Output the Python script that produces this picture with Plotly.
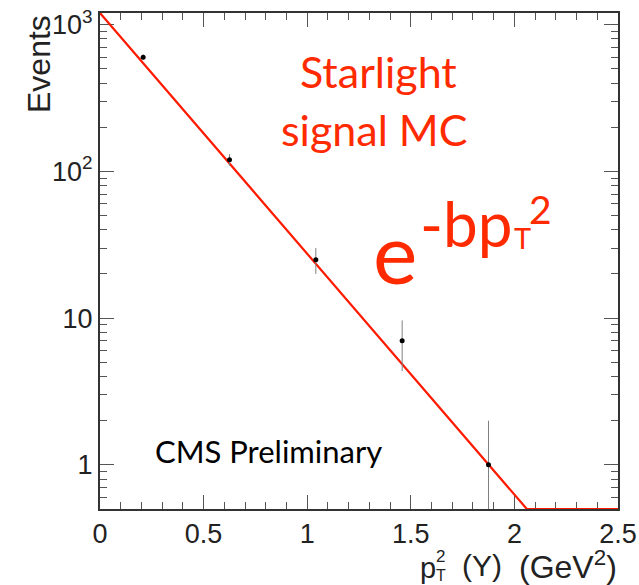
import plotly.graph_objects as go
import numpy as np

# ---- data ----
bin_centers = [0.2083, 0.625, 1.0417, 1.4583, 1.875]
events = [600, 120, 25, 7, 1]
errors = [24.5, 11.0, 5.0, 2.65, 1.0]
fit_x = [0.0, 2.06, 2.5]
fit_y = [1200, 0.5, 0.5]
y_tickvals = [1, 10, 100, 1000]
y_ticktext = ["1", "10", "10<sup>2</sup>", "10<sup>3</sup>"]
x_tickvals = [0, 0.5, 1, 1.5, 2, 2.5]
x_ticktext = ["0", "0.5", "1", "1.5", "2", "2.5"]
y_min, y_max = 0.5, 1200

RED = "#ff2a00"
L, R, T, B = 100, 618, 13, 509
W, H = 639, 585

def px(x):
    return (x - L) / (R - L)

def py(y):
    return (B - y) / (B - T)

fig = go.Figure()
fig.add_trace(go.Scatter(x=fit_x, y=fit_y, mode="lines",
                         line=dict(color="#ff1a00", width=2.2),
                         showlegend=False, hoverinfo="skip"))
fig.add_trace(go.Scatter(x=bin_centers, y=events, mode="markers",
                         marker=dict(color="black", size=5),
                         error_y=dict(type="data", array=errors, color="#808080",
                                      thickness=1, width=0),
                         showlegend=False))

minor_y = [m * 10 ** d for d in range(-1, 4) for m in range(2, 10)]
minor_y = [v for v in minor_y if y_min < v < y_max]

tickfont = dict(family="Liberation Sans, Arial, sans-serif", size=27, color="#222")
fig.update_xaxes(range=[0, 2.5], tickvals=x_tickvals, ticktext=x_ticktext,
                 ticks="inside", ticklen=14, tickcolor="#555", tickwidth=1,
                 showline=True, linecolor="#333", linewidth=2, mirror="allticks",
                 showgrid=False, zeroline=False, tickfont=tickfont, automargin=False,
                 minor=dict(dtick=0.1, ticks="inside", ticklen=7, tickcolor="#555",
                            showgrid=False),
                 layer="below traces")
fig.update_yaxes(type="log", range=[np.log10(y_min), np.log10(y_max)],
                 tickvals=y_tickvals, ticktext=y_ticktext,
                 ticks="inside", ticklen=14, tickcolor="#555", tickwidth=1,
                 showline=True, linecolor="#333", linewidth=2, mirror="allticks",
                 showgrid=False, zeroline=False, tickfont=tickfont, automargin=False,
                 minor=dict(tickvals=minor_y, ticks="inside", ticklen=7,
                            tickcolor="#555", showgrid=False),
                 layer="below traces")

gill = "Lato, 'Open Sans', sans-serif"
helv = "Liberation Sans, Arial, sans-serif"
ann = []
def A(text, x, y, size, color, family, xa="center", ya="middle", angle=0):
    ann.append(dict(text=text, x=px(x), y=py(y), xref="paper", yref="paper",
                    showarrow=False, xanchor=xa, yanchor=ya, textangle=angle,
                    font=dict(size=size, color=color, family=family)))

A("Starlight", 378, 72, 43, RED, gill)
A("signal MC", 374, 129, 43, RED, gill)
A("CMS Preliminary", 268, 451, 31, "black", gill)
A("e", 395, 252, 84, RED, gill)
A("-bp", 466, 223, 62, RED, gill)
A("T", 522, 237, 29, RED, gill)
A("2", 540, 209, 39, RED, gill)
# axis titles
A("Events", 39, 13, 32, "#222", helv, xa="center", ya="top", angle=-90)
A("(Υ)", 460, 565, 30, "#222", helv, xa="left")
A("(GeV<sup>2</sup>)", 619, 565, 32, "#222", helv, xa="right")
A("p", 418, 568, 29, "#222", helv, xa="left")
A("2", 434, 556, 17, "#222", helv, xa="left")
A("T", 434, 575, 16, "#222", helv, xa="left")

fig.update_layout(width=W, height=H, margin=dict(l=L, r=W - R, t=T, b=H - B),
                  plot_bgcolor="white", paper_bgcolor="white",
                  annotations=ann, showlegend=False)
fig.write_html("out.html")
